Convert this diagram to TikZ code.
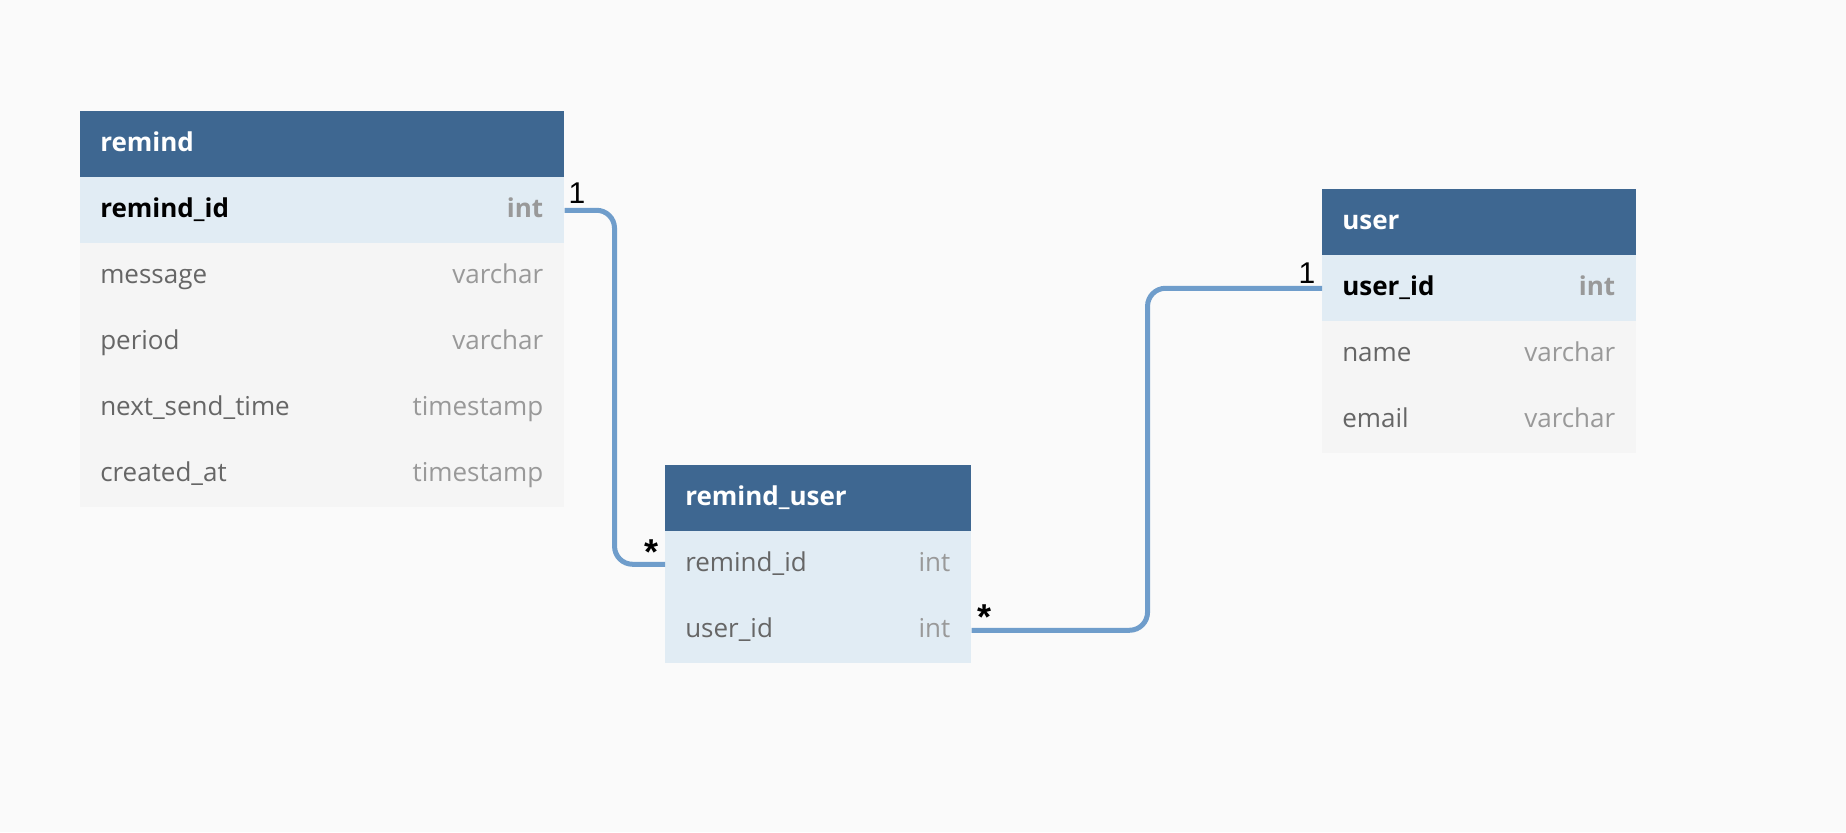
\documentclass[tikz,border=0pt]{standalone}
\usepackage{fontspec}
\setmainfont{Open Sans}
\newfontfamily\lblfont{Liberation Sans}
\definecolor{hdrblue}{HTML}{3E6791}
\definecolor{pkrow}{HTML}{E1ECF4}
\definecolor{plainrow}{HTML}{F5F5F5}
\definecolor{bgc}{HTML}{FAFAFA}
\definecolor{conncol}{HTML}{6F9DCB}
\definecolor{fgrey}{HTML}{666666}
\definecolor{tgrey}{HTML}{999999}
\begin{document}
\begin{tikzpicture}[x=0.75pt,y=-0.75pt,
  cell/.style={rectangle, inner sep=0pt, anchor=north west, minimum height=66*0.75pt, draw=none},
  hdr/.style={cell, fill=hdrblue},
  keyrow/.style={cell, fill=pkrow},
  plainrow/.style={cell, fill=plainrow},
  fnt/.style={font=\fontsize{19.5}{23}\selectfont},
  ttl/.style={inner sep=0pt, anchor=mid west, yshift=-2.4pt, text=white, font=\fontsize{19.5}{23}\selectfont\bfseries},
  fname/.style={inner sep=0pt, anchor=mid west, yshift=-2.4pt, text=fgrey, fnt},
  ftype/.style={inner sep=0pt, anchor=mid east, yshift=-2.4pt, text=tgrey, fnt},
  pkname/.style={inner sep=0pt, anchor=mid west, yshift=-2.4pt, text=black, font=\fontsize{19.5}{23}\selectfont\bfseries},
  pktype/.style={inner sep=0pt, anchor=mid east, yshift=-2.4pt, text=tgrey, font=\fontsize{19.5}{23}\selectfont\bfseries},
  conn/.style={draw=conncol, line width=3.75pt, rounded corners=13.5pt},
  onelbl/.style={inner sep=0pt, anchor=base, text=black, font=\lblfont\fontsize{22.5}{25}\selectfont},
  manylbl/.style={inner sep=0pt, anchor=base, text=black, font=\lblfont\bfseries\fontsize{27}{30}\selectfont}
]
\useasboundingbox[fill=bgc] (0,0) rectangle (1846,832);

% ---- remind ----
\node[hdr, minimum width=484*0.75pt] (rh) at (80,111) {};
\node[keyrow, minimum width=484*0.75pt] (r1) at (80,177) {};
\node[plainrow, minimum width=484*0.75pt] (r2) at (80,243) {};
\node[plainrow, minimum width=484*0.75pt] (r3) at (80,309) {};
\node[plainrow, minimum width=484*0.75pt] (r4) at (80,375) {};
\node[plainrow, minimum width=484*0.75pt] (r5) at (80,441) {};
\node[ttl] (rht) at ([xshift=15pt]rh.west) {remind};
\node[pkname] (r1n) at ([xshift=15pt]r1.west) {remind\_id};
\node[pktype] (r1t) at ([xshift=-15.75pt]r1.east) {int};
\node[fname] (r2n) at ([xshift=15pt]r2.west) {message};
\node[ftype] (r2t) at ([xshift=-15.75pt]r2.east) {varchar};
\node[fname] (r3n) at ([xshift=15pt]r3.west) {period};
\node[ftype] (r3t) at ([xshift=-15.75pt]r3.east) {varchar};
\node[fname] (r4n) at ([xshift=15pt]r4.west) {next\_send\_time};
\node[ftype] (r4t) at ([xshift=-15.75pt]r4.east) {timestamp};
\node[fname] (r5n) at ([xshift=15pt]r5.west) {created\_at};
\node[ftype] (r5t) at ([xshift=-15.75pt]r5.east) {timestamp};

% ---- remind_user ----
\node[hdr, minimum width=306*0.75pt] (uh) at (665,465) {};
\node[keyrow, minimum width=306*0.75pt] (ru1) at (665,531) {};
\node[keyrow, minimum width=306*0.75pt] (ru2) at (665,597) {};
\node[ttl] (uht) at ([xshift=15pt]uh.west) {remind\_user};
\node[fname] (ru1n) at ([xshift=15pt]ru1.west) {remind\_id};
\node[ftype] (ru1t) at ([xshift=-15.75pt]ru1.east) {int};
\node[fname] (ru2n) at ([xshift=15pt]ru2.west) {user\_id};
\node[ftype] (ru2t) at ([xshift=-15.75pt]ru2.east) {int};

% ---- user ----
\node[hdr, minimum width=314*0.75pt] (sh) at (1322,189) {};
\node[keyrow, minimum width=314*0.75pt] (u1) at (1322,255) {};
\node[plainrow, minimum width=314*0.75pt] (u2) at (1322,321) {};
\node[plainrow, minimum width=314*0.75pt] (u3) at (1322,387) {};
\node[ttl] (sht) at ([xshift=15pt]sh.west) {user};
\node[pkname] (u1n) at ([xshift=15pt]u1.west) {user\_id};
\node[pktype] (u1t) at ([xshift=-15.75pt]u1.east) {int};
\node[fname] (u2n) at ([xshift=15pt]u2.west) {name};
\node[ftype] (u2t) at ([xshift=-15.75pt]u2.east) {varchar};
\node[fname] (u3n) at ([xshift=15pt]u3.west) {email};
\node[ftype] (u3t) at ([xshift=-15.75pt]u3.east) {varchar};

% ---- connectors ----
\draw[conn] (r1.east) -- ++(50,0) |- (ru1.west);
\draw[conn] (ru2.east) -- ++(176,0) |- (u1.west);

% ---- cardinality labels ----
\node[onelbl] (c1) at (577,203) {1};
\node[manylbl] (c2) at (651,564) {*};
\node[manylbl] (c3) at (984,629) {*};
\node[onelbl] (c4) at (1307,283) {1};
\end{tikzpicture}
\end{document}
